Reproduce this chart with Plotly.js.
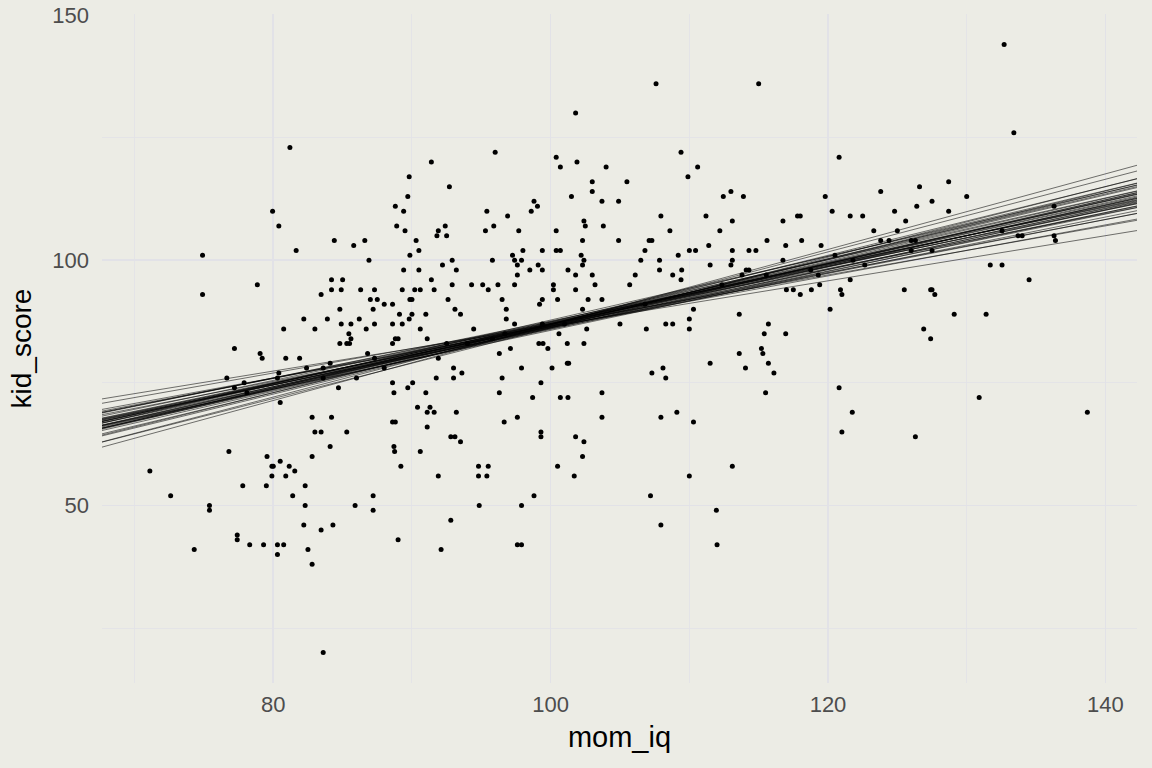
<!DOCTYPE html>
<html>
<head>
<meta charset="utf-8">
<script src="https://cdn.plot.ly/plotly-3.0.1.min.js"></script>
<style>html,body{margin:0;padding:0;background:#ECECE5;}#chart{width:1152px;height:768px;}</style>
</head>
<body>
<div id="chart"></div>
<script>
// observed data: mom_iq (x) and kid_score (y)
const mom_iq = [
81.2,79.95,80.4,84.4,85.8,86.6,81.65,74.9,86.9,
74.9,78.85,84.2,85.0,84.2,84.9,86.3,87.3,83.45,87.0,87.5,88.0,84.8,87.2,82.2,83.9,86.2,84.9,85.6,87.3,80.75,83.0,86.7,85.45,85.6,84.8,85.3,85.5,77.2,79.05,79.2,80.9,81.9,86.8,87.3,84.1,82.4,83.6,80.4,76.65,80.3,83.6,77.9,77.2,78.1,86.0,84.7,88.0,80.5,82.8,84.2,83.0,83.45,85.3,84.1,76.8,79.55,82.8,79.9,80.0,80.5,81.15,81.55,79.9,80.9,71.1,77.8,79.5,82.3,
72.6,75.4,75.4,81.4,82.3,85.9,87.2,87.2,82.2,83.45,84.3,77.4,77.4,78.3,79.3,80.3,80.75,74.3,80.3,82.5,82.8,83.6,
101.8,96.0,91.4,100.4,100.7,101.9,104.0,89.8,92.7,103.0,105.5,103.0,89.7,101.5,88.8,89.4,98.8,99.05,98.6,95.4,103.7,104.9,96.9,88.9,89.5,91.9,92.4,91.8,92.5,95.3,95.9,97.7,100.4,102.4,102.5,103.8,90.3,102.3,104.9,90.5,89.85,97.25,98.0,99.4,100.4,100.7,102.2,106.8,
92.9,95.8,97.4,97.9,102.4,106.5,92.2,97.6,99.1,102.3,89.4,90.5,93.2,98.5,99.4,101.25,97.6,101.8,103.0,106.1,91.4,92.9,94.3,95.1,96.2,97.4,100.2,103.2,105.7,89.3,90.2,90.6,91.6,95.5,100.2,101.8,88.6,89.85,90.0,92.6,96.5,99.4,100.5,102.7,103.7,99.2,93.1,96.8,102.3,89.1,90.0,91.0,93.5,89.8,96.8,88.6,89.3,97.4,105.0,90.6,94.45,102.6,106.9,99.4,101.0,106.8,92.5,94.0,96.7,95.8,91.1,88.6,88.8,89.0,100.6,99.15,99.45,99.8,101.2,102.4,96.3,97.1,91.9,101.2,101.3,93.0,93.6,97.9,100.1,91.75,93.0,96.5,88.6,90.05,99.3,88.7,89.7,91.0,96.3,103.7,98.7,100.7,101.25,90.4,91.3,91.1,91.6,93.2,97.6,103.7,88.6,88.8,96.65,91.1,99.3,99.3,92.8,93.1,101.8,93.5,102.4,88.7,88.75,90.6,102.3,89.2,94.8,95.5,100.5,91.9,94.8,95.4,101.7,
89.0,92.8,92.1,94.85,97.9,98.8,97.6,97.9,107.2,107.95,111.95,112.0,
107.6,115.0,109.4,120.8,109.9,110.6,112.45,113.0,113.9,119.8,123.8,107.95,111.2,113.1,120.3,121.6,122.5,124.8,117.8,118.0,116.75,108.6,112.2,123.3,125.0,107.1,107.3,111.4,115.6,116.95,118.1,119.5,123.8,124.4,109.2,110.0,110.45,113.1,114.3,114.8,120.5,126.0,
107.85,113.1,116.75,121.8,111.5,113.0,122.65,107.85,109.45,114.1,114.3,118.75,108.8,113.8,115.55,119.3,109.4,121.6,112.35,119.4,117.0,117.5,118.8,120.9,125.5,118.0,121.0,110.3,120.15,113.6,110.0,108.3,108.8,110.0,115.7,115.4,116.95,115.2,113.6,115.3,111.5,115.7,108.1,114.05,107.3,108.3,116.1,115.5,120.8,109.1,107.95,110.3,121.75,121.0,113.1,110.0,
132.7,133.4,126.6,128.7,126.4,127.5,130.0,128.7,125.6,136.3,126.0,126.3,132.55,133.7,134.0,136.3,136.4,127.5,
131.7,132.55,134.5,127.4,127.5,127.7,129.1,131.4,126.9,127.4,130.9,138.7,126.3
];
const kid_score = [
123,110,107,104,103,104,102,101,100,
93,95,96,96,94,94,94,94,93,92,92,91,90,90,88,88,88,87,87,87,86,86,86,85,84,83,83,83,82,81,80,80,80,81,80,79,78,78,77,76,76,76,75,74,73,76,74,78,71,68,68,65,65,65,62,61,60,60,58,58,59,58,57,56,56,57,54,54,54,
52,50,49,52,50,50,52,49,46,45,46,44,43,42,42,42,42,41,40,41,38,20,
130,122,120,121,119,120,119,117,115,116,116,114,113,113,111,110,112,111,110,110,112,112,109,107,106,106,107,105,105,106,107,106,106,108,107,107,104,104,104,102,101,101,102,102,102,102,101,102,
100,100,100,100,100,100,99,99,99,99,98,98,98,98,98,98,97,97,97,97,96,95,95,95,95,95,95,95,95,94,94,94,94,94,94,94,91,92,92,92,92,92,92,92,92,91,90,90,90,89,89,89,89,88,88,87,87,87,87,86,86,86,86,87,87,91,83,83,85,84,84,83,84,84,85,83,83,82,83,83,81,82,80,79,79,78,77,78,78,76,76,76,75,75,75,73,74,73,73,73,72,72,72,70,70,69,69,69,68,68,67,67,67,66,65,64,64,64,64,63,63,62,61,61,60,58,58,58,58,56,56,56,56,
43,47,41,50,50,52,42,42,52,46,49,42,
136,136,122,121,117,119,113,114,113,113,114,109,109,108,110,109,109,110,109,109,108,106,106,106,106,104,104,103,104,103,104,103,104,104,101,102,102,102,102,102,101,102,
100,100,100,100,99,99,99,98,98,98,98,98,97,97,97,97,96,96,95,95,94,94,94,94,94,93,93,90,90,89,88,87,87,86,87,85,85,82,81,81,79,79,78,78,77,76,77,73,74,69,68,67,69,65,58,56,
144,126,115,116,111,112,113,110,108,111,104,104,106,105,105,105,104,102,
99,99,96,94,94,93,89,89,86,84,72,69,64
];
// posterior draws of the regression line: kid_score = intercept + slope * mom_iq
const intercepts = [25.8,28.5,23.0,26.2,20.9,31.1,24.4,28.3,18.6,24.5,29.0,21.3,27.0,25.2,32.7,17.0,24.9,29.6,22.5,20.4,34.4,37.0,40.6,9.8,12.9,14.2,26.6,23.1,27.9,21.1,31.3,24.9,17.5,30.4,26.1,22.7,25.7,22.8,28.2,23.8];
const slopes = [0.61,0.58,0.64,0.60,0.66,0.56,0.62,0.59,0.68,0.63,0.57,0.65,0.60,0.62,0.54,0.70,0.61,0.58,0.64,0.67,0.52,0.50,0.46,0.77,0.74,0.72,0.60,0.63,0.59,0.66,0.55,0.62,0.69,0.57,0.61,0.64,0.60,0.65,0.58,0.63];

const xr = [67.65, 142.28];
const yr = [13.8, 150.2];
const lx = [], ly = [];
for (let i = 0; i < intercepts.length; i++) {
  lx.push(xr[0], xr[1], null);
  ly.push(intercepts[i] + slopes[i] * xr[0], intercepts[i] + slopes[i] * xr[1], null);
}

const bg = '#ECECE5';
const grid = '#E2E2E7';
const traces = [
  {type:'scatter', mode:'markers', x:mom_iq, y:kid_score, marker:{color:'#000', size:5}, hoverinfo:'skip', showlegend:false},
  {type:'scatter', mode:'lines', x:lx, y:ly, line:{color:'rgba(0,0,0,0.72)', width:0.75}, hoverinfo:'skip', showlegend:false, connectgaps:false}
];
const layout = {
  width:1152, height:768,
  paper_bgcolor:bg, plot_bgcolor:bg,
  margin:{l:102, r:15, t:14, b:85},
  showlegend:false,
  font:{family:'Liberation Sans, Arial, sans-serif'},
  xaxis:{
    range:xr, tickvals:[80,100,120,140], ticktext:['80','100','120','140'],
    showgrid:true, gridcolor:grid, gridwidth:1.6, zeroline:false, showline:false, ticks:'',
    minor:{tickvals:[70,90,110,130], showgrid:true, gridcolor:grid, gridwidth:0.8},
    tickfont:{size:22, color:'#4D4D4D'}, ticklabelstandoff:6,
    title:{text:'mom_iq', font:{size:29, color:'#000'}, standoff:10}
  },
  yaxis:{
    range:yr, tickvals:[50,100,150], ticktext:['50','100','150'],
    showgrid:true, gridcolor:grid, gridwidth:1.6, zeroline:false, showline:false, ticks:'',
    minor:{tickvals:[25,75,125], showgrid:true, gridcolor:grid, gridwidth:0.8},
    tickfont:{size:22, color:'#4D4D4D'}, ticklabelstandoff:12,
    title:{text:'kid_score', font:{size:28, color:'#000'}, standoff:12}
  }
};
Plotly.newPlot('chart', traces, layout, {staticPlot:true, displayModeBar:false});
</script>
</body>
</html>
